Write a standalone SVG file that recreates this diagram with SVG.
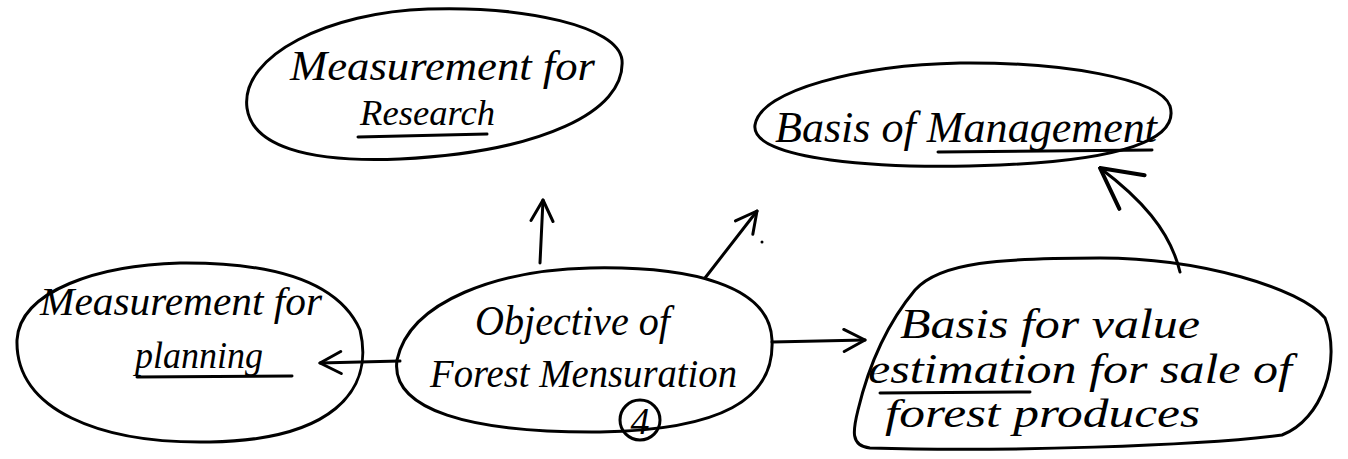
<svg xmlns="http://www.w3.org/2000/svg" width="1348" height="459" viewBox="0 0 1348 459">
  <style>
    .blob { fill: none; stroke: #000; stroke-width: 3; stroke-linecap: round; stroke-linejoin: round; }
    .ink { fill: none; stroke: #000; stroke-width: 3; stroke-linecap: round; }
    .hand { font-family: "Liberation Serif", "DejaVu Serif", serif; font-style: italic; fill: #000; }
  </style>
  <defs>
    <marker id="head" viewBox="0 0 26 26" refX="24" refY="13" markerWidth="26" markerHeight="26" markerUnits="userSpaceOnUse" orient="auto">
      <path d="M3,2 L24,13 L3,24" fill="none" stroke="#000" stroke-width="3" stroke-linecap="round" stroke-linejoin="round"/>
    </marker>
    <marker id="head-big" viewBox="0 0 46 46" refX="44" refY="23" markerWidth="46" markerHeight="46" markerUnits="userSpaceOnUse" orient="auto">
      <path d="M4,2 L44,23 L4,44" fill="none" stroke="#000" stroke-width="4" stroke-linecap="round" stroke-linejoin="round"/>
    </marker>
  </defs>
  <rect width="1348" height="459" fill="#fff"/>

  <!-- connectors -->
  <g id="connectors">
    <path class="ink" d="M540,263 L543,200" marker-end="url(#head)"/>
    <path class="ink" d="M705,278 L757,211" marker-end="url(#head)"/>
    <path class="ink" d="M400,361 L320,363" marker-end="url(#head)"/>
    <path class="ink" d="M772,342 L865,340" marker-end="url(#head)"/>
    <path class="ink" d="M1180,272 C1170,230 1140,198 1100,168" marker-end="url(#head-big)"/>
    <circle cx="762" cy="242" r="1.5" fill="#000"/>
  </g>

  <!-- Measurement for Research -->
  <g id="node-research">
    <path class="blob" d="M247,108 C240,55 330,12 428,9 C525,6 618,26 622,60 C626,112 540,152 400,159 C305,163 252,145 247,108 Z"/>
    <text class="hand" x="290" y="80" font-size="42" textLength="305" lengthAdjust="spacingAndGlyphs">Measurement for</text>
    <text class="hand" x="360" y="125" font-size="36" textLength="135" lengthAdjust="spacingAndGlyphs">Research</text>
    <path class="ink" d="M358,137 L487,134"/>
  </g>

  <!-- Basis of Management -->
  <g id="node-management">
    <path class="blob" d="M755,125 C760,90 860,65 960,63 C1060,62 1160,78 1170,106 C1180,140 1120,160 1000,165 C880,170 750,160 755,125 Z"/>
    <text class="hand" x="775" y="142" font-size="44" textLength="382" lengthAdjust="spacingAndGlyphs">Basis of Management</text>
    <path class="ink" d="M938,152 L1152,150"/>
  </g>

  <!-- Measurement for planning -->
  <g id="node-planning">
    <path class="blob" d="M17,340 C20,290 100,265 180,263 C280,262 340,285 360,330 C375,392 330,440 210,442 C100,444 15,410 17,340 Z"/>
    <text class="hand" x="40" y="315" font-size="40" textLength="282" lengthAdjust="spacingAndGlyphs">Measurement for</text>
    <text class="hand" x="135" y="368" font-size="38" textLength="128" lengthAdjust="spacingAndGlyphs">planning</text>
    <path class="ink" d="M137,377 L292,376"/>
  </g>

  <!-- Objective of Forest Mensuration -->
  <g id="node-objective">
    <path class="blob" d="M397,360 C410,300 500,270 590,268 C690,266 770,285 772,340 C775,400 720,430 600,432 C470,433 390,410 397,360 Z"/>
    <text class="hand" x="475" y="335" font-size="42" textLength="195" lengthAdjust="spacingAndGlyphs">Objective of</text>
    <text class="hand" x="430" y="387" font-size="40" textLength="307" lengthAdjust="spacingAndGlyphs">Forest Mensuration</text>
    <circle class="ink" cx="640" cy="420" r="20"/>
    <text class="hand" x="640" y="434" font-size="38" text-anchor="middle">4</text>
  </g>

  <!-- Basis for value estimation -->
  <g id="node-value">
    <path class="blob" d="M915,290 C940,262 1000,258 1100,258 C1200,258 1300,288 1325,318 C1342,360 1322,420 1282,435 C1200,446 1000,452 870,448 C850,446 853,430 858,410 C870,360 890,320 915,290 Z"/>
    <text class="hand" x="900" y="338" font-size="42" textLength="300" lengthAdjust="spacingAndGlyphs">Basis for value</text>
    <text class="hand" x="868" y="383" font-size="42" textLength="424" lengthAdjust="spacingAndGlyphs">estimation for sale of</text>
    <path class="ink" d="M880,393 L1030,392"/>
    <text class="hand" x="885" y="427" font-size="40" textLength="315" lengthAdjust="spacingAndGlyphs">forest produces</text>
  </g>
</svg>
